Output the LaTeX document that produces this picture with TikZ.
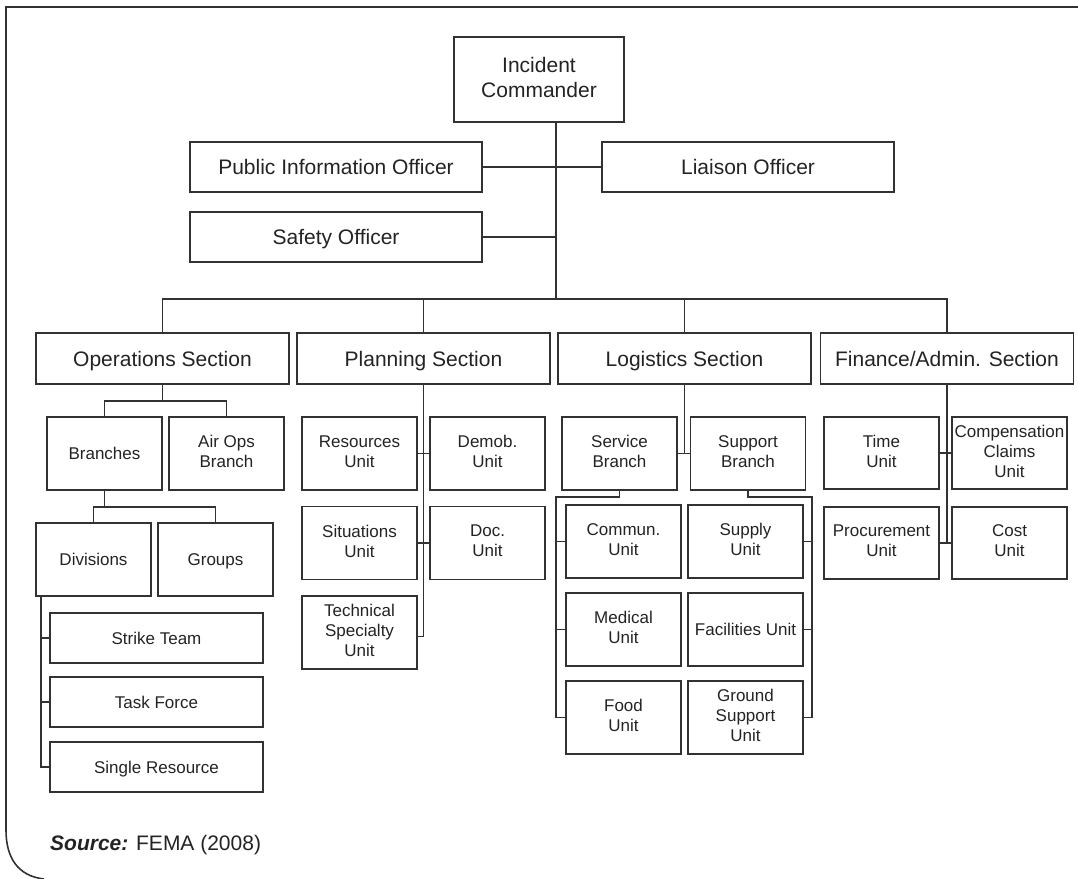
\documentclass[tikz,border=0pt]{standalone}
\usepackage{fontspec}
\setmainfont{Liberation Sans}
\definecolor{linecol}{RGB}{50,50,50}
\definecolor{txtcol}{RGB}{35,35,35}
\newcommand{\bigfnt}{\fontsize{21}{25}\selectfont}
\newcommand{\smallfnt}{\fontsize{17}{20}\selectfont}
\newcommand{\mystrut}{\rule[-0.2\baselineskip]{0pt}{\baselineskip}}
\begin{document}
\begin{tikzpicture}[x=1pt,y=-1pt,
  box/.style={draw=linecol, line width=1.3pt, inner sep=0pt, align=center, text=txtcol,
    execute at begin node=\mystrut, execute at end node=\mystrut},
  bigbox/.style={box, font=\bigfnt},
  unitbox/.style={box, font=\smallfnt, minimum width=115pt, minimum height=73pt},
  wide/.style={box, font=\smallfnt, minimum width=213pt, minimum height=50pt},
  sect/.style={bigbox, minimum width=253pt, minimum height=51pt},
  officer/.style={bigbox, minimum width=292pt, minimum height=50pt},
  conn/.style={draw=linecol, line width=1.3pt}
]
\useasboundingbox (0,0) rectangle (1078,878);
% frame
\draw[linecol, line width=1.6pt] (1080,7) -- (6,7) -- (6,830) .. controls (6,858) and (18,876) .. (44,879);

% top level
\node[bigbox, minimum width=170pt, minimum height=85pt] (ic) at (539,79.5) {Incident\\Commander};
\node[officer] (pio) at (336,167) {Public Information Officer};
\node[officer] (lia) at (748,167) {Liaison Officer};
\node[officer] (saf) at (336,237) {Safety Officer};
\coordinate (bus) at (556,299);

\node[sect] (ops) at (162.5,358.5) {Operations Section};
\node[sect] (plan) at (423.5,358.5) {Planning Section};
\node[sect] (log) at (684.5,358.5) {Logistics Section};
\node[sect] (fin) at (947,358.5) {Finance/Admin. Section};

\draw[conn] (ic.south -| bus) -- (bus);
\draw[conn] (pio.east) -- (lia.west);
\draw[conn] (saf.east) -- (saf.east -| bus);
\draw[conn] (ops.north) |- (bus) -| (fin.north);
\draw[conn] (plan.north) -- (plan.north |- bus);
\draw[conn] (log.north) -- (log.north |- bus);

% operations
\node[unitbox] (br) at (104.5,453.5) {Branches};
\node[unitbox] (air) at (226.5,453.5) {Air Ops\\Branch};
\coordinate (opsj) at (162.5,401);
\draw[conn] (ops.south) -- (opsj);
\draw[conn] (br.north) |- (opsj) -| (air.north);
\node[unitbox] (div) at (93.5,559.5) {Divisions};
\node[unitbox] (grp) at (215.5,559.5) {Groups};
\coordinate (brj) at (104.5,507);
\draw[conn] (br.south) -- (brj);
\draw[conn] (div.north) |- (brj) -| (grp.north);
\node[wide] (st) at (156.5,638) {Strike Team};
\node[wide] (tf) at (156.5,702) {Task Force};
\node[wide] (sr) at (156.5,767) {Single Resource};
\coordinate (dv) at (41,0);
\draw[conn] (div.south -| dv) |- (sr.west);
\draw[conn] (st.west) -- (st.west -| dv);
\draw[conn] (tf.west) -- (tf.west -| dv);

% planning
\node[unitbox] (res) at (359.5,453.5) {Resources\\Unit};
\node[unitbox] (dem) at (487.5,453.5) {Demob.\\Unit};
\node[unitbox] (sit) at (359.5,543) {Situations\\Unit};
\node[unitbox] (doc) at (487.5,543) {Doc.\\Unit};
\node[unitbox] (ts) at (359.5,632.5) {Technical\\Specialty\\Unit};
\draw[conn] (plan.south) |- ([yshift=-4pt]ts.east);
\draw[conn] (res.east) -- (dem.west);
\draw[conn] (sit.east) -- (doc.west);

% logistics
\node[unitbox] (svc) at (619.5,453.5) {Service\\Branch};
\node[unitbox] (sup) at (748,453.5) {Support\\Branch};
\draw[conn] (log.south) -- (log.south |- svc.east);
\draw[conn] (svc.east) -- (sup.west);
\node[unitbox] (com) at (623.5,541.5) {Commun.\\Unit};
\node[unitbox] (med) at (623.5,629.5) {Medical\\Unit};
\node[unitbox] (food) at (623.5,717.5) {Food\\Unit};
\node[unitbox] (spl) at (745.5,541.5) {Supply\\Unit};
\node[unitbox] (fac) at (745.5,629.5) {Facilities Unit};
\node[unitbox] (gs) at (745.5,717.5) {Ground\\Support\\Unit};
\coordinate (lsl) at (556,497);
\coordinate (lsr) at (812,497);
\draw[conn] (svc.south) |- (lsl) |- (food.west);
\draw[conn] (com.west) -- (com.west -| lsl);
\draw[conn] (med.west) -- (med.west -| lsl);
\draw[conn] (sup.south) |- (lsr) |- (gs.east);
\draw[conn] (spl.east) -- (spl.east -| lsr);
\draw[conn] (fac.east) -- (fac.east -| lsr);

% finance
\node[unitbox, minimum height=72pt] (time) at (881.5,453) {Time\\Unit};
\node[unitbox, minimum height=72pt] (comp) at (1009.5,453) {Compensation\\Claims\\Unit};
\node[unitbox, minimum height=72pt] (proc) at (881.5,543) {Procurement\\Unit};
\node[unitbox, minimum height=72pt] (cost) at (1009.5,543) {Cost\\Unit};
\draw[conn] (fin.south) -- (fin.south |- cost.west);
\draw[conn] (time.east) -- (comp.west);
\draw[conn] (proc.east) -- (cost.west);

% source
\node[anchor=base west, inner sep=0pt, text=txtcol, font=\bigfnt] (src) at (50,850) {\textbf{\textit{Source:}} FEMA (2008)};
\end{tikzpicture}
\end{document}
